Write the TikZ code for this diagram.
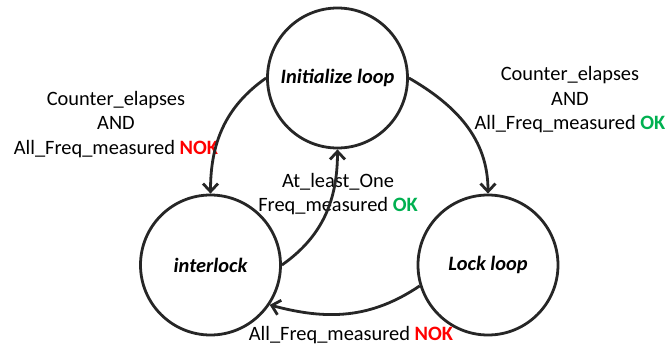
\documentclass[tikz,border=0pt]{standalone}
\usepackage{fontspec}
\setmainfont{Carlito}
\usetikzlibrary{arrows.meta}
\definecolor{nokred}{RGB}{255,0,0}
\definecolor{okgreen}{RGB}{0,176,80}
\newcommand{\condnok}{\textcolor{nokred}{\bfseries NOK}}
\newcommand{\condok}{\textcolor{okgreen}{\bfseries OK}}
\begin{document}
\begin{tikzpicture}[x=0.5pt,y=0.5pt,>={Straight Barb[length=4pt,width=7.5pt]},
  state/.style={circle,draw=black!85,line width=1.4pt,minimum size=70pt,inner sep=0pt,font=\fontsize{10.2}{12}\selectfont\bfseries\itshape},
  trans/.style={->,black!85,line width=1.4pt},
  cond/.style={align=center,font=\fontsize{10.2}{12.25}\selectfont}]
  \useasboundingbox (0,0) rectangle (666,345);
  \foreach \nm/\px/\py/\txt in {init/337.5/267/Initialize loop,intlk/210.5/80/interlock,lock/488/80/Lock loop}{\node[state] (\nm) at (\px,\py) {\txt};}
  % transition conditions
  \node[cond] (cinit) at (116,220.5) {Counter\_elapses\\AND\\All\_Freq\_measured \condnok};
  \node[cond] (clock) at (570,245) {Counter\_elapses\\AND\\All\_Freq\_measured \condok};
  \node[cond] (cback) at (338,151) {At\_least\_One\\Freq\_measured \condok};
  \node[cond] (cdown) at (351,10) {All\_Freq\_measured \condnok};
  \draw[trans] (init.west) to[out=215,in=90] (intlk.north);
  \draw[trans] (init.east) to[out=-30,in=90] (lock.north);
  \draw[trans] (intlk.east) to[out=35,in=-90] (init.south);
  \draw[trans] (lock.197) to[out=214,in=-15] (intlk.-34);
\end{tikzpicture}
\end{document}
